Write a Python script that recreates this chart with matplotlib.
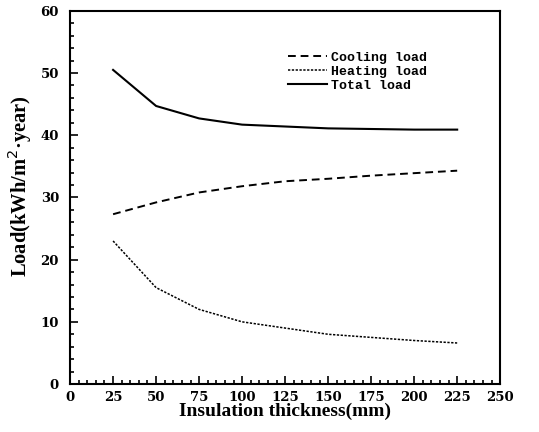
import matplotlib
matplotlib.use('Agg')
import matplotlib.pyplot as plt
from matplotlib.ticker import MultipleLocator

thickness = [25, 50, 75, 100, 125, 150, 175, 200, 225]
cooling = [27.3, 29.2, 30.8, 31.8, 32.6, 33.0, 33.5, 33.9, 34.3]
heating = [23.0, 15.5, 12.0, 10.0, 9.0, 8.0, 7.5, 7.0, 6.6]
total = [50.5, 44.7, 42.7, 41.7, 41.4, 41.1, 41.0, 40.9, 40.9]

fig = plt.figure(figsize=(5.39, 4.32), dpi=100)
ax = fig.add_axes([0.130, 0.111, 0.798, 0.864])

ax.plot(thickness, cooling, color='black', lw=1.4, linestyle=(0, (4, 2.5)), label='Cooling load')
ax.plot(thickness, heating, color='black', lw=1.1, linestyle=(0, (1.5, 1)), label='Heating load')
ax.plot(thickness, total, color='black', lw=1.5, linestyle='-', label='Total load')

ax.set_xlim(0, 250)
ax.set_ylim(0, 60)
ax.xaxis.set_major_locator(MultipleLocator(25))
ax.xaxis.set_minor_locator(MultipleLocator(5))
ax.yaxis.set_major_locator(MultipleLocator(10))
ax.yaxis.set_minor_locator(MultipleLocator(2))
ax.tick_params(which='both', direction='in', top=False, right=False, width=1.2)
ax.tick_params(which='major', length=6)
ax.tick_params(which='minor', length=3)
ax.tick_params(axis='y', pad=8)
ax.tick_params(axis='x', pad=5)
for s in ax.spines.values():
    s.set_linewidth(1.5)

for lab in ax.get_xticklabels() + ax.get_yticklabels():
    lab.set_family('DejaVu Serif')
    lab.set_fontweight('bold')
    lab.set_fontsize(9.5)

ax.set_xlabel('Insulation thickness(mm)', family='Liberation Serif', fontweight='bold', fontsize=14, labelpad=-1)
ax.set_ylabel('Load(kWh/m$^2$·year)', family='Liberation Serif', fontweight='bold', fontsize=14.8)
ax.yaxis.set_label_coords(-0.083, 0.53)

leg = ax.legend(loc='upper left', bbox_to_anchor=(0.478, 0.923), frameon=False,
                prop={'family': 'Liberation Mono', 'weight': 'bold', 'size': 9.5},
                handlelength=3.0, handletextpad=0.3, labelspacing=0.15)

fig.savefig('out.png', dpi=100)
